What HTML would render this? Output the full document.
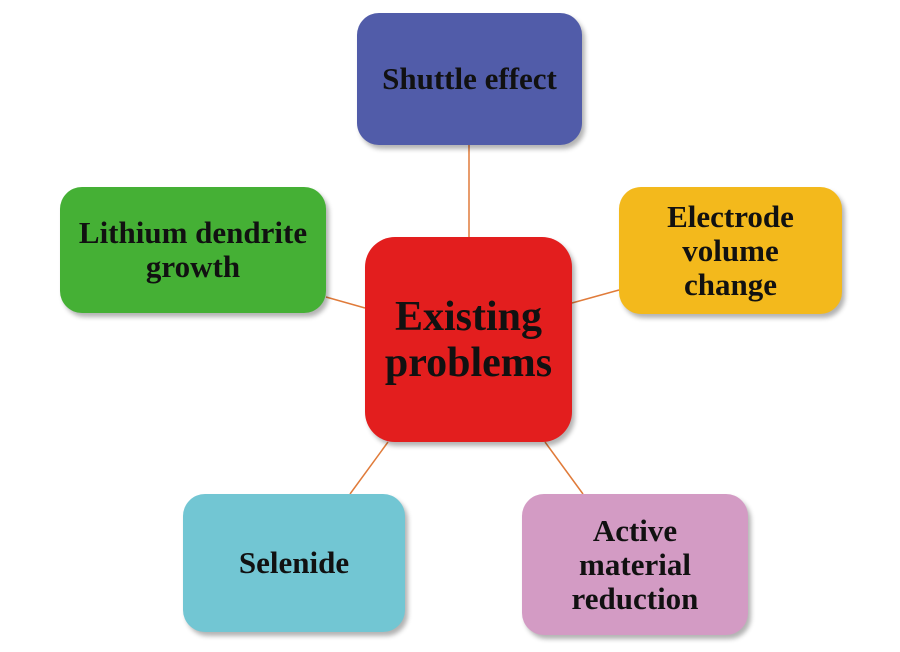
<!DOCTYPE html>
<html><head><meta charset="utf-8"><style>
body{margin:0;width:900px;height:652px;background:#fff;position:relative;overflow:hidden;font-family:"Liberation Serif",serif;font-weight:bold;}
.b{position:absolute;border-radius:22px;display:flex;align-items:center;justify-content:center;text-align:center;font-size:31px;line-height:34px;color:#111;box-shadow:3px 4px 5px rgba(0,0,0,0.3);}
svg{position:absolute;left:0;top:0;}
</style></head><body>
<svg width="900" height="652"><g stroke="#e07b3a" stroke-width="1.5">
<line x1="469" y1="145" x2="469" y2="237"/>
<line x1="326" y1="297" x2="365" y2="308"/>
<line x1="619" y1="290" x2="572" y2="303"/>
<line x1="350" y1="494" x2="388" y2="442"/>
<line x1="583" y1="494" x2="545" y2="442"/>
</g></svg>
<div class="b" style="left:357px;top:13px;width:225px;height:132px;background:#515ca9;">Shuttle effect</div>
<div class="b" style="left:60px;top:187px;width:266px;height:126px;background:#45b035;">Lithium dendrite<br>growth</div>
<div class="b" style="left:619px;top:187px;width:223px;height:127px;background:#f3b91c;">Electrode<br>volume<br>change</div>
<div class="b" style="left:365px;top:237px;width:207px;height:205px;background:#e31e1e;font-size:42px;line-height:46px;border-radius:30px;">Existing<br>problems</div>
<div class="b" style="left:183px;top:494px;width:222px;height:138px;background:#72c6d3;">Selenide</div>
<div class="b" style="left:522px;top:494px;width:226px;height:141px;background:#d39bc4;">Active<br>material<br>reduction</div>
</body></html>
